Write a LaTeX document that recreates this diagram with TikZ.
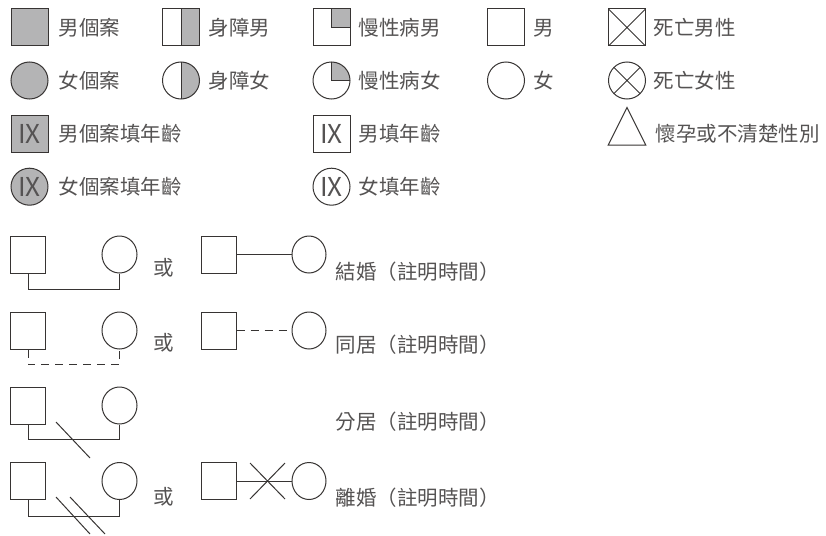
\documentclass[tikz,border=0pt]{standalone}
\usepackage{fontspec}
\newfontfamily\cjk{Noto Sans CJK TC}
\usetikzlibrary{shapes.geometric}
\definecolor{txt}{RGB}{85,83,83}
\definecolor{ln}{RGB}{55,52,51}
\definecolor{fillgray}{RGB}{180,180,181}
\tikzset{
  every path/.style={line width=1pt},
  lbl/.style={anchor=west, inner sep=0, text=txt, font=\cjk\fontsize{20.5}{20.5}\selectfont},
  orlbl/.style={inner sep=0, text=txt, font=\cjk\fontsize{20.5}{20.5}\selectfont},
  sq/.style={rectangle, draw=ln, minimum width=37pt, minimum height=37pt, inner sep=0},
  ci/.style={circle, draw=ln, minimum size=37pt, inner sep=0},
  rsq/.style={rectangle, draw=ln, minimum width=35pt, minimum height=37pt, inner sep=0},
  rci/.style={ellipse, draw=ln, minimum width=35pt, minimum height=37pt, inner sep=0},
  ix/.style={text=txt, font=\cjk\fontsize{26}{26}\selectfont},
  shaded/.style={fill=fillgray},
  halfshade/.style={path picture={
     \fill[fillgray] (path picture bounding box.north) rectangle (path picture bounding box.south east);
     \draw[ln] (path picture bounding box.north) -- (path picture bounding box.south);}},
  quartshade/.style={path picture={
     \fill[fillgray] (path picture bounding box.center) rectangle (path picture bounding box.north east);
     \draw[ln] (path picture bounding box.north) -- (path picture bounding box.center) -- (path picture bounding box.east);}},
  sqcross/.style={path picture={
     \draw[ln] (path picture bounding box.north west) -- (path picture bounding box.south east)
               (path picture bounding box.north east) -- (path picture bounding box.south west);}},
  cicross/.style={path picture={
     \draw[ln] (path picture bounding box.center) +(-13.1,-13.1) -- +(13.1,13.1)
               (path picture bounding box.center) +(-13.1,13.1) -- +(13.1,-13.1);}},
  tri/.style={isosceles triangle, isosceles triangle stretches, shape border rotate=90,
     draw=ln, minimum width=37.5pt, minimum height=37.5pt, inner sep=0},
  conn/.style={draw=ln},
  dconn/.style={draw=ln, dash pattern=on 8pt off 6pt},
}
\begin{document}
\begin{tikzpicture}[x=1pt,y=-1pt]
\useasboundingbox (0,0) rectangle (826,535);
% row 1
\node[sq, shaded] (gm) at (29.5,27.5) {};
\node[lbl] (tgm) at (58,28) {男個案};
\node[sq, halfshade] (dm) at (181,27.5) {};
\node[lbl] (tdm) at (208,28) {身障男};
\node[sq, quartshade] (cm) at (331.5,27.5) {};
\node[lbl] (tcm) at (358,28) {慢性病男};
\node[sq] (pm) at (506,27.5) {};
\node[lbl] (tpm) at (533,28) {男};
\node[sq, sqcross] (xm) at (627,27.5) {};
\node[lbl] (txm) at (653,28) {死亡男性};
% row 2
\node[ci, shaded] (gf) at (29.5,80.5) {};
\node[lbl] (tgf) at (58,80.5) {女個案};
\node[ci, halfshade] (df) at (181,80.5) {};
\node[lbl] (tdf) at (208,80.5) {身障女};
\node[ci, quartshade] (cf) at (331.5,80.5) {};
\node[lbl] (tcf) at (358,80.5) {慢性病女};
\node[ci] (pf) at (506,80.5) {};
\node[lbl] (tpf) at (533,80.5) {女};
\node[ci, cicross] (xf) at (627,80.5) {};
\node[lbl] (txf) at (653,80.5) {死亡女性};
% row 3
\node[sq, shaded, ix] (am) at (29.5,133.5) {IX};
\node[lbl] (tam) at (58,133.5) {男個案填年齡};
\node[sq, ix] (bm) at (331.5,133.5) {IX};
\node[lbl] (tbm) at (358,133.5) {男填年齡};
\node[tri] (tr) at (627,133.5) {};
\node[lbl] (ttr) at (655,133.5) {懷孕或不清楚性別};
% row 4
\node[ci, shaded, ix] (af) at (29.5,186.7) {IX};
\node[lbl] (taf) at (58,186.7) {女個案填年齡};
\node[ci, ix] (bf) at (331.5,186.7) {IX};
\node[lbl] (tbf) at (358,186.7) {女填年齡};
% marriage
\node[rsq] (m1) at (28,254.5) {};
\node[rci] (f1) at (119.5,254.5) {};
\draw[conn] (m1.south) -- ++(0,16) -| (f1.south);
\node[orlbl] (o1) at (164,268) {或};
\node[rsq] (m1b) at (218.5,254.5) {};
\node[rci, minimum width=34pt] (f1b) at (309,254.5) {};
\draw[conn] (m1b.east) -- (f1b.west);
\node[lbl] (t1) at (335,272) {結婚（註明時間）};
% cohabitation
\node[rsq] (m2) at (28,330.5) {};
\node[rci] (f2) at (119.5,330.5) {};
\draw[dconn] (m2.south) -- ++(0,15) -| (f2.south);
\node[orlbl] (o2) at (164,343) {或};
\node[rsq] (m2b) at (218.5,330.5) {};
\node[rci, minimum width=34pt] (f2b) at (309,330.5) {};
\draw[dconn] (m2b.east) -- (f2b.west);
\node[lbl] (t2) at (335,345) {同居（註明時間）};
% separation
\node[rsq] (m3) at (28,405.5) {};
\node[rci] (f3) at (119.5,405.5) {};
\draw[conn] (m3.south) -- ++(0,15) -| (f3.south);
\coordinate (s3a) at (56,422);
\coordinate (s3b) at (90,458);
\draw[conn] (s3a) -- (s3b);
\node[lbl] (t3) at (335,422) {分居（註明時間）};
% divorce
\node[rsq] (m4) at (28,481) {};
\node[rci] (f4) at (119.5,481) {};
\draw[conn] (m4.south) -- ++(0,16) -| (f4.south);
\coordinate (s4a) at (56,497);
\coordinate (s4b) at (90,534);
\coordinate (s4c) at (70,497);
\coordinate (s4d) at (105,534);
\draw[conn] (s4a) -- (s4b) (s4c) -- (s4d);
\node[orlbl] (o4) at (164,497) {或};
\node[rsq] (m4b) at (218.5,481) {};
\node[rci, minimum width=34pt] (f4b) at (309,481) {};
\draw[conn] (m4b.east) -- (f4b.west);
\coordinate (x4a) at (250,463);
\coordinate (x4b) at (285,499);
\coordinate (x4c) at (250,499);
\coordinate (x4d) at (285,463);
\draw[conn] (x4a) -- (x4b) (x4c) -- (x4d);
\node[lbl] (t4) at (335,498) {離婚（註明時間）};
\end{tikzpicture}
\end{document}
